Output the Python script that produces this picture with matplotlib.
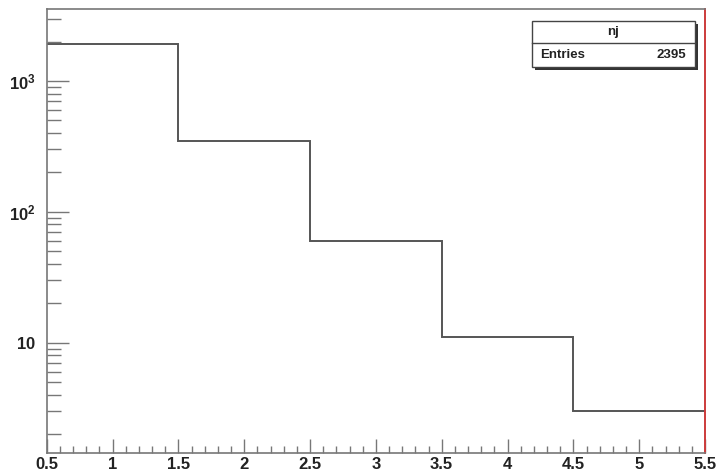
import numpy as np
import matplotlib
matplotlib.use('Agg')
import matplotlib.pyplot as plt
from matplotlib.patches import Rectangle
from matplotlib.lines import Line2D
from matplotlib.ticker import FixedLocator, NullFormatter

# ── Data ──────────────────────────────────────────────────────────────────────
bin_edges = [0.5, 1.5, 2.5, 3.5, 4.5, 5.5]
counts    = [1908, 350, 60, 11, 3]
hist_name = 'nj'
n_entries = 2395

x_major = [0.5, 1, 1.5, 2, 2.5, 3, 3.5, 4, 4.5, 5, 5.5]
x_labels = ['0.5', '1', '1.5', '2', '2.5', '3', '3.5', '4', '4.5', '5', '5.5']
y_major = [10, 100, 1000]
y_labels = [r'$\mathbf{10}$', r'$\mathbf{10^{2}}$', r'$\mathbf{10^{3}}$']

# ── Figure ────────────────────────────────────────────────────────────────────
W, H = 720, 476
plt.rcParams.update({'font.family': ['Liberation Sans', 'DejaVu Sans'],
                     'mathtext.fontset': 'custom',
                     'mathtext.bf': 'Liberation Sans:bold',
                     'mathtext.rm': 'Liberation Sans'})
fig = plt.figure(figsize=(W/100, H/100), dpi=100)

def fx(px):
    return px / W

def fy(py):
    return 1 - py / H

left, right, top, bottom = 46.7, 705, 9, 452.7
ax = fig.add_axes([fx(left), fy(bottom), fx(right - left), fy(top) - fy(bottom)])

ax.stairs(counts, bin_edges, baseline=None, color='#555555', lw=1.4)

ax.set_yscale('log')
ax.set_xlim(0.5, 5.5)
ax.set_ylim(1.44, 3550)

for side in ['left', 'bottom', 'top']:
    ax.spines[side].set_color('#777777')
    ax.spines[side].set_linewidth(1.2)
ax.spines['right'].set_color('#cc3b3b')
ax.spines['right'].set_linewidth(1.4)

# x ticks
ax.xaxis.set_major_locator(FixedLocator(x_major))
ax.set_xticklabels(x_labels)
ax.xaxis.set_minor_locator(FixedLocator(np.arange(0.6, 5.5, 0.1)))
ax.tick_params(axis='x', which='major', direction='in', length=10, width=1,
               color='#777777', pad=3, labelsize=12, top=False)
ax.tick_params(axis='x', which='minor', direction='in', length=5, width=1,
               color='#777777', top=False)

# y ticks
minor_y = [m * 10**e for e in range(0, 4) for m in range(2, 10)]
ax.yaxis.set_major_locator(FixedLocator(y_major))
ax.set_yticklabels(y_labels)
ax.yaxis.set_minor_locator(FixedLocator(minor_y))
ax.yaxis.set_minor_formatter(NullFormatter())
ax.tick_params(axis='y', which='major', direction='in', length=16, width=1,
               color='#777777', pad=8, labelsize=12, right=False)
ax.tick_params(axis='y', which='minor', direction='in', length=10, width=1,
               color='#777777', right=False)
for lbl in ax.get_xticklabels() + ax.get_yticklabels():
    lbl.set_fontweight('bold')
    lbl.set_color('#222222')

# ── Stats box ────────────────────────────────────────────────────────────────
bx0, bx1, by0, by1 = 531.7, 695, 20.7, 66.7
shadow = Rectangle((fx(bx0 + 3), fy(by1 + 3)), fx(bx1 - bx0), fy(by0) - fy(by1),
                   transform=fig.transFigure, facecolor='#333333', edgecolor='none')
box = Rectangle((fx(bx0), fy(by1)), fx(bx1 - bx0), fy(by0) - fy(by1),
                transform=fig.transFigure, facecolor='white', edgecolor='#444444', lw=1)
fig.add_artist(shadow)
fig.add_artist(box)
fig.add_artist(Line2D([fx(bx0), fx(bx1)], [fy(43.3), fy(43.3)],
                      transform=fig.transFigure, color='#444444', lw=1))
fig.text(fx((bx0 + bx1) / 2), fy(32), hist_name, ha='center', va='center',
         fontsize=9.5, fontweight='bold', color='#222222')
fig.text(fx(540), fy(55), 'Entries', ha='left', va='center',
         fontsize=9.5, fontweight='bold', color='#222222')
fig.text(fx(686), fy(55), f'{n_entries}', ha='right', va='center',
         fontsize=9.5, fontweight='bold', color='#222222')

fig.savefig('out.png', dpi=100)
